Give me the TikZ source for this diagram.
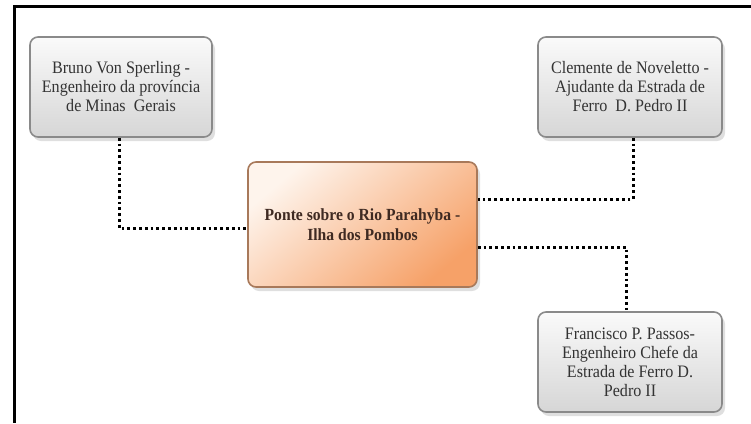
\documentclass[tikz,border=0pt]{standalone}
\usepackage{fontspec}
\setmainfont{Liberation Serif}
\newfontfamily\boxfont[FakeStretch=0.92]{Liberation Serif}
\usetikzlibrary{shadows}
\definecolor{boxtop}{HTML}{FAFAFA}
\definecolor{boxbot}{HTML}{D6D6D6}
\definecolor{boxline}{HTML}{8A8A8A}
\definecolor{peachlight}{HTML}{FEF4EC}
\definecolor{peachmid}{HTML}{FBDCC6}
\definecolor{peachdark}{HTML}{F6A168}
\definecolor{peachline}{HTML}{A8795A}
\definecolor{txtgray}{HTML}{333333}
\definecolor{txtbrown}{HTML}{3F2A22}
\begin{document}
\begin{tikzpicture}[x=1pt,y=-1pt,
  person/.style={draw=boxline, line width=1.6pt, rounded corners=8pt,
    top color=boxtop, bottom color=boxbot,
    minimum width=182pt, minimum height=100pt, align=center,
    text=txtgray, font=\boxfont\fontsize{17.5}{19}\selectfont,
    drop shadow={shadow xshift=3pt, shadow yshift=-4pt, opacity=0.25, fill=gray}},
  mainbox/.style={draw=peachline, line width=1.6pt, rounded corners=8pt,
    top color=peachlight, middle color=peachmid, bottom color=peachdark, shading angle=40,
    minimum width=229pt, minimum height=125pt, align=center,
    text=txtbrown, font=\boxfont\bfseries\fontsize{17}{19.5}\selectfont,
    drop shadow={shadow xshift=3pt, shadow yshift=-4pt, opacity=0.25, fill=gray}},
  conn/.style={line width=3pt, dash pattern=on 2.8pt off 3pt, black}]
\useasboundingbox (0,0) rectangle (751,423);
\fill[white] (0,0) rectangle (751,423);
\fill[black] (13,5) rectangle (751,8);
\fill[black] (13,5) rectangle (16,423);

\node[person] (bruno) at (121,87) {Bruno Von Sperling -\\Engenheiro da província\\de Minas\ \ Gerais};
\node[person, minimum width=184pt] (clem) at (630,87) {Clemente de Noveletto -\\Ajudante da Estrada de\\Ferro\ \ D. Pedro II};
\node[mainbox] (center) at (362.5,224.5) {Ponte sobre o Rio Parahyba -\\Ilha dos Pombos};
\node[person, minimum width=184pt] (fran) at (630,362) {Francisco P. Passos-\\Engenheiro Chefe da\\Estrada de Ferro D.\\Pedro II};

\draw[conn] ([xshift=-2pt]bruno.south) |- ([yshift=-3.5pt]center.west);
\draw[conn] ([xshift=3pt]clem.south) |- ([yshift=25.5pt]center.east);
\draw[conn] ([yshift=-22.5pt]center.east) -| ([xshift=-4pt]fran.north);
\end{tikzpicture}
\end{document}
